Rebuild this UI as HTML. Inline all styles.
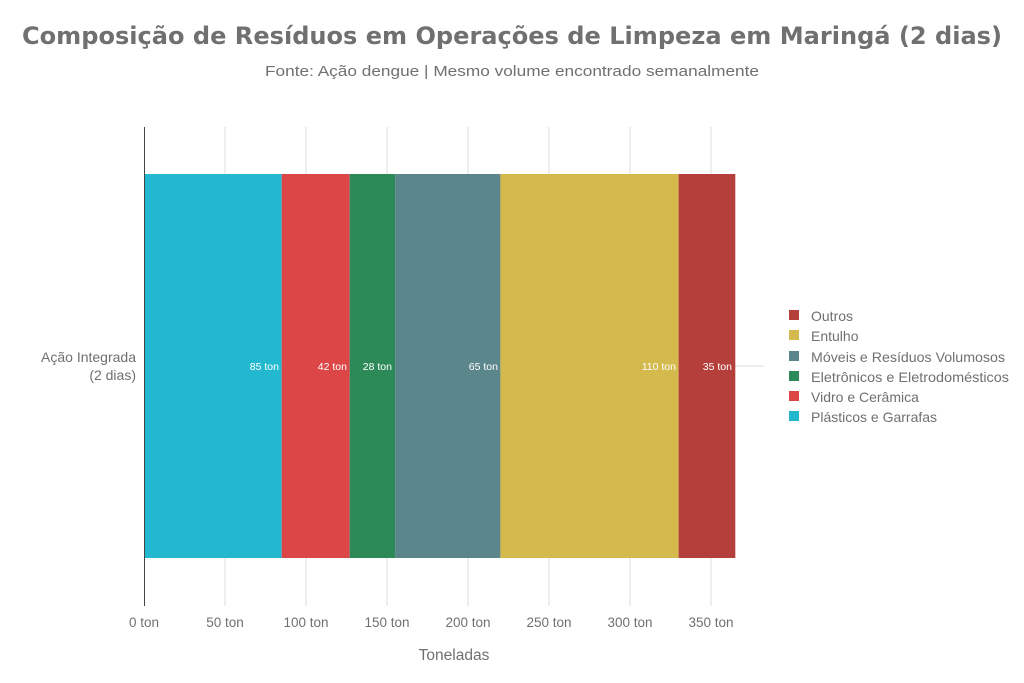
<!DOCTYPE html>
<html><head><meta charset="utf-8"><style>
body{margin:0;background:#fff;}
svg{display:block;font-family:"Liberation Sans",sans-serif;}
</style></head><body>
<svg width="1024" height="683" xmlns="http://www.w3.org/2000/svg">
<text x="22" y="44" font-family="DejaVu Sans, sans-serif" font-size="24" font-weight="bold" fill="#707070" textLength="980" lengthAdjust="spacingAndGlyphs">Composição de Resíduos em Operações de Limpeza em Maringá (2 dias)</text>
<text x="265" y="76" font-size="15" fill="#707070" textLength="494" lengthAdjust="spacingAndGlyphs">Fonte: Ação dengue | Mesmo volume encontrado semanalmente</text>
<g stroke="#dddddd" stroke-width="1">
<line x1="225" y1="127" x2="225" y2="606"/><line x1="306" y1="127" x2="306" y2="606"/><line x1="387" y1="127" x2="387" y2="606"/><line x1="468" y1="127" x2="468" y2="606"/><line x1="549" y1="127" x2="549" y2="606"/><line x1="630" y1="127" x2="630" y2="606"/><line x1="711" y1="127" x2="711" y2="606"/>
<line x1="144" y1="366" x2="764" y2="366"/>
</g>
<rect x="144" y="174" width="137.7" height="384" fill="#22b8cf"/>
<rect x="281.7" y="174" width="68" height="384" fill="#dc4646"/>
<rect x="349.7" y="174" width="45.4" height="384" fill="#2c8a59"/>
<rect x="395.1" y="174" width="105.3" height="384" fill="#5b868c"/>
<rect x="500.4" y="174" width="178.2" height="384" fill="#d4b94d"/>
<rect x="678.6" y="174" width="56.7" height="384" fill="#b53f3a"/>
<line x1="144.5" y1="127" x2="144.5" y2="606" stroke="#444" stroke-width="1"/>
<g font-size="10.5" fill="#fff" text-anchor="end">
<text x="279" y="370">85 ton</text><text x="347" y="370">42 ton</text><text x="392" y="370">28 ton</text><text x="498" y="370">65 ton</text><text x="676" y="370">110 ton</text><text x="732" y="370">35 ton</text>
</g>
<g font-size="14" fill="#707070" text-anchor="end">
<text x="136" y="362">Ação Integrada</text><text x="136" y="380">(2 dias)</text>
</g>
<g font-size="13.5" fill="#707070" text-anchor="middle">
<text x="144" y="627">0 ton</text><text x="225" y="627">50 ton</text><text x="306" y="627">100 ton</text><text x="387" y="627">150 ton</text><text x="468" y="627">200 ton</text><text x="549" y="627">250 ton</text><text x="630" y="627">300 ton</text><text x="711" y="627">350 ton</text>
<text x="454" y="660" font-size="15.5">Toneladas</text>
</g>
<g font-size="14" fill="#707070">
<rect x="789" y="310" width="10" height="10" fill="#b53f3a"/><text x="811" y="321">Outros</text>
<rect x="789" y="330" width="10" height="10" fill="#d4b94d"/><text x="811" y="341">Entulho</text>
<rect x="789" y="351" width="10" height="10" fill="#5b868c"/><text x="811" y="362" textLength="194" lengthAdjust="spacingAndGlyphs">Móveis e Resíduos Volumosos</text>
<rect x="789" y="371" width="10" height="10" fill="#2c8a59"/><text x="811" y="382" textLength="198" lengthAdjust="spacingAndGlyphs">Eletrônicos e Eletrodomésticos</text>
<rect x="789" y="391" width="10" height="10" fill="#dc4646"/><text x="811" y="402">Vidro e Cerâmica</text>
<rect x="789" y="411" width="10" height="10" fill="#22b8cf"/><text x="811" y="422">Plásticos e Garrafas</text>
</g>
</svg>
</body></html>
